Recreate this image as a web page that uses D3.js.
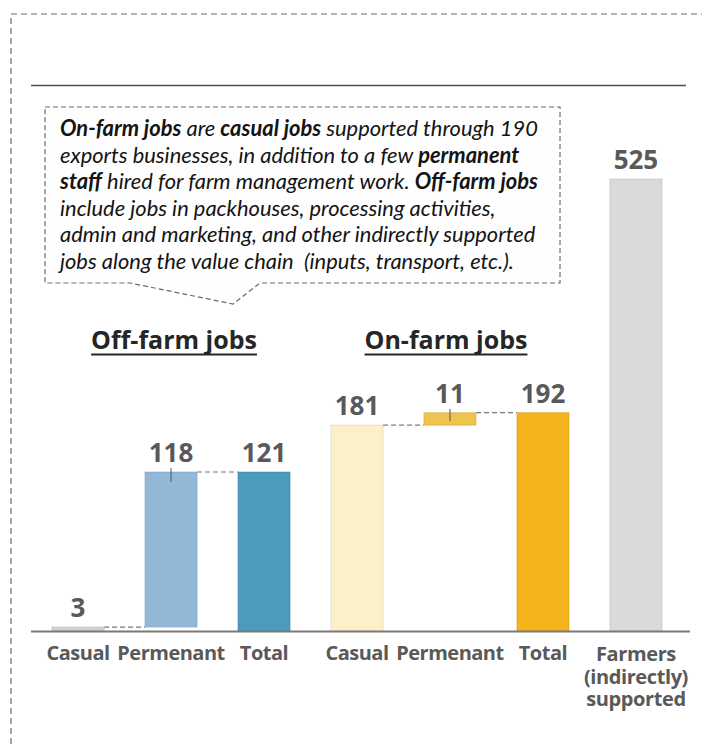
<!DOCTYPE html>
<html>
<head>
<meta charset="utf-8">
<script src="https://cdn.jsdelivr.net/npm/d3@7"></script>
<style>
  html, body { margin: 0; padding: 0; background: #fff; }
  svg { display: block; }
</style>
</head>
<body>
<svg id="chart" width="702" height="744"></svg>
<script>
// ---- data ----
const categories = ["offCasual", "offPermanent", "offTotal", "onCasual", "onPermanent", "onTotal", "farmers"];
const offFarmLabels = ["Casual", "Permenant", "Total"];
const offFarmValues = [3, 118, 121];
const onFarmLabels = ["Casual", "Permenant", "Total"];
const onFarmValues = [181, 11, 192];
const farmerLabel = ["Farmers", "(indirectly)", "supported"];
const farmerValues = [525];
const groupTitles = ["Off-farm jobs", "On-farm jobs"];
const offFarmColors = ["#d3d3d3", "#93b8d7", "#4b9bbd"];
const onFarmColors = ["#fcf0c8", "#efc44e", "#f5b31c"];
const farmerColors = ["#dadada"];

// callout text: each line is a list of [text, bold] runs
const noteLines = [
  [["On-farm jobs", true], [" are ", false], ["casual jobs", true], [" supported through 190", false]],
  [["exports businesses, in addition to a few ", false], ["permanent", true]],
  [["staff", true], [" hired for farm management work. ", false], ["Off-farm jobs", true]],
  [["include jobs in packhouses, processing activities,", false]],
  [["admin and marketing, and other indirectly supported", false]],
  [["jobs along the value chain  (inputs, transport, etc.).", false]]
];

const svg = d3.select("#chart");
const labelFont = "'Open Sans', 'Segoe UI', sans-serif";
const gray = "#595959";

// ---- frame ----
svg.append("rect")
  .attr("x", 11).attr("y", 14).attr("width", 760).attr("height", 800)
  .attr("fill", "none").attr("stroke", "#6a6a6a").attr("stroke-width", 1.2)
  .attr("stroke-dasharray", "6,4");

svg.append("line")
  .attr("x1", 31).attr("x2", 686).attr("y1", 85.5).attr("y2", 85.5)
  .attr("stroke", "#4d4d4d").attr("stroke-width", 1.6);

// ---- scales ----
const baseY = 631;
const x = d3.scaleBand().domain(categories).range([31, 683]).paddingInner(0.44).paddingOuter(0.226);
// each panel is its own small chart with its own vertical scale
const yOff = d3.scaleLinear().domain([0, d3.max(offFarmValues)]).range([baseY, 472]);
const yOn = d3.scaleLinear().domain([0, d3.max(onFarmValues)]).range([baseY, 412.7]);
const yFarm = d3.scaleLinear().domain([0, d3.max(farmerValues)]).range([baseY, 179]);

// waterfall segments: casual from 0, permanent stacked on casual, total from 0
function waterfall(values, keys, colors, labels, y) {
  return [
    { key: keys[0], lo: 0, hi: values[0], value: values[0], color: colors[0], label: labels[0], y },
    { key: keys[1], lo: values[0], hi: values[0] + values[1], value: values[1], color: colors[1], label: labels[1], y, float: true },
    { key: keys[2], lo: 0, hi: values[2], value: values[2], color: colors[2], label: labels[2], y }
  ];
}
const bars = [
  ...waterfall(offFarmValues, categories.slice(0, 3), offFarmColors, offFarmLabels, yOff),
  ...waterfall(onFarmValues, categories.slice(3, 6), onFarmColors, onFarmLabels, yOn),
  { key: categories[6], lo: 0, hi: farmerValues[0], value: farmerValues[0], color: farmerColors[0], label: null, y: yFarm }
];

// ---- connectors between waterfall steps ----
const connectors = [];
[[0, 1], [1, 2], [3, 4], [4, 5]].forEach(([a, b]) => {
  const A = bars[a], B = bars[b];
  connectors.push({ x1: x(A.key) + x.bandwidth(), x2: x(B.key), y: A.y(A.hi) });
});
svg.append("g").selectAll("line").data(connectors).join("line")
  .attr("x1", d => d.x1).attr("x2", d => d.x2)
  .attr("y1", d => d.y).attr("y2", d => d.y)
  .attr("stroke", "#777").attr("stroke-width", 1.2).attr("stroke-dasharray", "5,3");

// ---- bars ----
svg.append("g").selectAll("rect").data(bars).join("rect")
  .attr("x", d => x(d.key))
  .attr("width", x.bandwidth())
  .attr("y", d => d.y(d.hi))
  .attr("height", d => Math.max(2, d.y(d.lo) - d.y(d.hi)))
  .attr("fill", d => d.color)
  .attr("stroke", d => d3.color(d.color).darker(0.5))
  .attr("stroke-opacity", 0.5)
  .attr("stroke-width", 1);

// small leader ticks on the floating bars
svg.append("g").selectAll("line").data(bars.filter(d => d.float)).join("line")
  .attr("x1", d => x(d.key) + x.bandwidth() / 2)
  .attr("x2", d => x(d.key) + x.bandwidth() / 2)
  .attr("y1", d => d.y(d.hi) - 4)
  .attr("y2", d => Math.min(d.y(d.hi) + 10, d.y(d.lo) - 4))
  .attr("stroke", "#555").attr("stroke-width", 1);

// ---- value labels ----
svg.append("g").selectAll("text").data(bars).join("text")
  .attr("x", d => x(d.key) + x.bandwidth() / 2)
  .attr("y", d => d.y(d.hi) - 10)
  .attr("text-anchor", "middle")
  .attr("font-family", labelFont).attr("font-weight", 700).attr("font-size", 26)
  .attr("fill", gray)
  .text(d => d.value);

// ---- baseline ----
svg.append("line")
  .attr("x1", 31).attr("x2", 690).attr("y1", baseY + 0.5).attr("y2", baseY + 0.5)
  .attr("stroke", "#7a7a7a").attr("stroke-width", 2);

// ---- category labels ----
svg.append("g").selectAll("text").data(bars.filter(d => d.label)).join("text")
  .attr("x", d => x(d.key) + x.bandwidth() / 2)
  .attr("y", 660)
  .attr("text-anchor", "middle")
  .attr("font-family", labelFont).attr("font-weight", 700).attr("font-size", 20)
  .attr("letter-spacing", -0.5)
  .attr("fill", gray)
  .text(d => d.label);

const farmText = svg.append("text")
  .attr("text-anchor", "middle")
  .attr("font-family", labelFont).attr("font-weight", 700).attr("font-size", 20)
  .attr("letter-spacing", -0.4)
  .attr("fill", gray);
farmText.selectAll("tspan").data(farmerLabel).join("tspan")
  .attr("x", x(categories[6]) + x.bandwidth() / 2)
  .attr("y", (d, i) => 661 + i * 22.5)
  .text(d => d);

// ---- group titles (underlined) ----
const titleCenters = [
  (x(categories[0]) + x(categories[2]) + x.bandwidth()) / 2 + 3,
  (x(categories[3]) + x(categories[5]) + x.bandwidth()) / 2 - 4
];
groupTitles.forEach((t, i) => {
  const txt = svg.append("text")
    .attr("x", titleCenters[i]).attr("y", 349)
    .attr("text-anchor", "middle")
    .attr("font-family", labelFont).attr("font-weight", 700).attr("font-size", 25)
    .attr("fill", "#262626")
    .text(t);
  const w = txt.node().getComputedTextLength();
  svg.append("line")
    .attr("x1", titleCenters[i] - w / 2).attr("x2", titleCenters[i] + w / 2)
    .attr("y1", 354.5).attr("y2", 354.5)
    .attr("stroke", "#262626").attr("stroke-width", 1.8);
});

// ---- callout ----
svg.append("path")
  .attr("d", "M45,107 H560 V283 H260 L233,304 L130,283 H45 Z")
  .attr("fill", "#fefefe")
  .attr("stroke", "#6a6a6a").attr("stroke-width", 1.2)
  .attr("stroke-dasharray", "5,3");

const note = svg.append("text")
  .attr("font-family", "Lato, 'Open Sans', sans-serif")
  .attr("font-style", "italic")
  .attr("font-size", 21.9)
  .attr("fill", "#141414");
noteLines.forEach((runs, i) => {
  runs.forEach((r, j) => {
    const ts = note.append("tspan")
      .attr("font-weight", r[1] ? 700 : 400)
      .attr("xml:space", "preserve")
      .style("white-space", "pre")
      .text(r[0]);
    if (j === 0) ts.attr("x", 60).attr("y", 136 + i * 26.5);
  });
});
</script>
</body>
</html>
